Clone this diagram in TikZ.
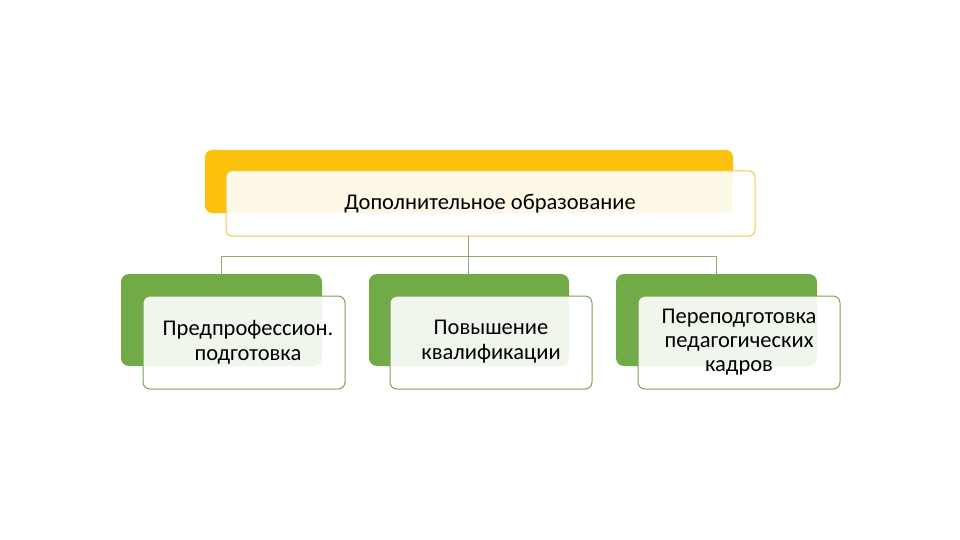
\documentclass[tikz,border=0pt]{standalone}
\usepackage{fontspec}
\setmainfont{Carlito}
\definecolor{gold}{HTML}{FBC10B}
\definecolor{goldline}{HTML}{F2C84B}
\definecolor{leaf}{HTML}{71AB47}
\definecolor{leafline}{HTML}{78A452}
\definecolor{conn}{HTML}{8FAA72}
\tikzset{
  backgold/.style={fill=gold, draw=none, rounded corners=7pt},
  frontgold/.style={draw=goldline, line width=1pt, fill=white, fill opacity=0.9, rounded corners=6pt},
  backleaf/.style={fill=leaf, draw=none, rounded corners=8pt},
  frontleaf/.style={draw=leafline, line width=1pt, fill=white, fill opacity=0.9, rounded corners=7pt},
  conn/.style={draw=conn, line width=0.8pt},
  lbl/.style={font=\fontsize{22.5}{25}\selectfont, align=center, inner sep=0pt}
}
\begin{document}
\begin{tikzpicture}[x=1pt,y=-1pt]
\useasboundingbox (0,0) rectangle (960,540);
% parent
\path[backgold] (205,150) rectangle (733,213);
\path[frontgold] (226,171) rectangle (755,236);
\node[lbl] (ptext) at (490,204) {Дополнительное образование};
\coordinate (pbot) at (468,236);
% children back boxes
\path[backleaf] (121,274) rectangle (322,366);
\path[backleaf] (369,274) rectangle (569,366);
\path[backleaf] (616,274) rectangle (817,366);
\coordinate (c1top) at (221,274);
\coordinate (c2top) at (468,274);
\coordinate (c3top) at (716,274);
% connectors
\coordinate (jn) at (468,256);
\draw[conn] (pbot) -- (jn);
\draw[conn] (c1top) |- (c3top |- jn) -- (c3top);
\draw[conn] (jn) -- (c2top);
% children front boxes
\path[frontleaf] (143,296) rectangle (345,389);
\path[frontleaf] (390,296) rectangle (592,389);
\path[frontleaf] (638,296) rectangle (840,389);
\node[lbl] (c1) at (248,342) {Предпрофессион.\\подготовка};
\node[lbl] (c2) at (491,342) {Повышение\\квалификации};
\node[lbl, font=\fontsize{22.5}{24}\selectfont] (c3) at (739,342) {Переподготовка\\педагогических\\кадров};
\end{tikzpicture}
\end{document}
